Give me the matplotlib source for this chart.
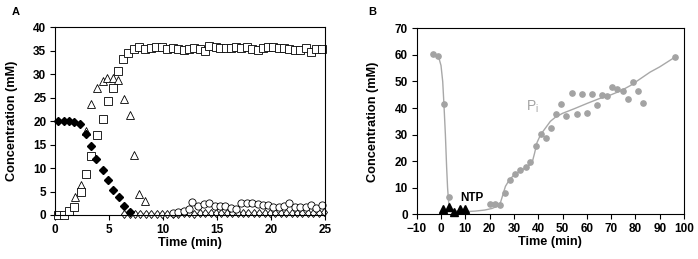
import matplotlib.pyplot as plt

plt.rcParams['font.family'] = ['Liberation Sans', 'DejaVu Sans']

# ---- panel A data ----
dia_t = [0.3, 0.8, 1.3, 1.8, 2.3, 2.9, 3.3, 3.8, 4.4, 4.9, 5.4, 5.9, 6.4, 6.9]
dia_c = [20.0, 20.0, 20.0, 19.9, 19.3, 17.2, 14.8, 12.0, 9.6, 7.4, 5.3, 3.9, 2.0, 0.7]

sq_t = [0.3, 0.8, 1.3, 1.8, 2.4, 2.9, 3.35, 3.85, 4.4, 4.9, 5.35, 5.85, 6.3, 6.8,
        7.35, 7.8, 8.3, 8.9, 9.35, 9.9, 10.4, 10.9, 11.4, 11.9, 12.4, 12.85, 13.4,
        13.85, 14.3, 14.9, 15.3, 15.8, 16.3, 16.8, 17.25, 17.8, 18.25, 18.75,
        19.25, 19.75, 20.2, 20.7, 21.2, 21.7, 22.2, 22.7, 23.2, 23.7, 24.2, 24.7]
sq_c = [0.0, 0.0, 0.8, 1.8, 4.8, 8.7, 12.6, 17.1, 20.5, 24.2, 27.1, 30.7, 33.2, 34.5,
        35.4, 35.9, 35.3, 35.6, 35.8, 35.7, 35.3, 35.6, 35.4, 35.2, 35.3, 35.6, 35.4,
        35.0, 36.1, 35.8, 35.5, 35.6, 35.6, 35.9, 35.5, 35.7, 35.4, 35.2,
        35.6, 35.7, 35.7, 35.5, 35.5, 35.3, 35.1, 35.2, 35.5, 34.7, 35.3, 35.4]

tri_t = [1.85, 2.4, 2.9, 3.35, 3.85, 4.4, 4.85, 5.4, 5.85, 6.4, 6.9, 7.35, 7.8, 8.3]
tri_c = [3.8, 6.3, 18.0, 23.6, 27.0, 28.6, 29.1, 29.1, 28.8, 24.8, 21.3, 12.8, 4.5, 3.0]

circ_t = [10.9, 11.4, 11.9, 12.4, 12.7, 13.2, 13.75, 14.25, 14.8, 15.25, 15.75, 16.25,
          16.75, 17.25, 17.75, 18.25, 18.75, 19.25, 19.75, 20.2, 20.7, 21.2, 21.7,
          22.2, 22.7, 23.2, 23.7, 24.2, 24.7]
circ_c = [0.4, 0.6, 0.9, 1.3, 2.7, 1.9, 2.3, 2.5, 1.9, 1.9, 2.0, 1.4, 1.3, 2.6, 2.6,
          2.6, 2.4, 2.2, 2.1, 1.8, 1.8, 1.9, 2.6, 1.8, 1.6, 1.6, 2.2, 1.5, 2.1]

odia_t = [6.4, 6.9, 7.4, 7.9, 8.4, 8.9, 9.4, 9.9, 10.4, 10.9, 11.4, 11.9, 12.4, 12.9,
          13.4, 13.9, 14.4, 14.9, 15.4, 15.9, 16.4, 16.9, 17.4, 17.9, 18.4, 18.9,
          19.4, 19.9, 20.4, 20.9, 21.4, 21.9, 22.4, 22.9, 23.4, 23.9, 24.4, 24.9]
odia_c = [0.2, 0.3, 0.3, 0.3, 0.3, 0.3, 0.3, 0.3, 0.3, 0.3, 0.3, 0.4, 0.4, 0.3,
          0.4, 0.4, 0.5, 0.4, 0.4, 0.4, 0.5, 0.4, 0.4, 0.5, 0.4, 0.5,
          0.4, 0.5, 0.4, 0.5, 0.4, 0.5, 0.5, 0.4, 0.5, 0.5, 0.5, 0.6]

# ---- panel B data ----
pi_t = [-3.15, -1.1, 1.2, 3.15, 20.1, 22.2, 24.2, 26.3, 28.4, 30.4, 32.7, 34.8, 36.8,
        38.9, 41.0, 43.2, 45.2, 47.3, 49.3, 51.6, 53.7, 55.9, 58.0, 60.1, 62.2, 64.2,
        66.4, 68.4, 70.5, 72.6, 74.7, 76.8, 78.9, 81.0, 83.2, 96.2]
pi_c = [60.3, 59.7, 41.5, 6.4, 3.9, 3.9, 3.4, 8.2, 12.9, 15.1, 16.7, 17.7, 19.6,
        25.7, 30.4, 28.7, 32.6, 37.6, 41.4, 37.0, 45.5, 37.6, 45.2, 38.3, 45.4, 41.2,
        44.9, 44.7, 47.8, 47.2, 46.5, 43.4, 49.8, 46.5, 42.0, 59.3]

fit_t = [-3.2, -1.1, 0.0, 0.7, 1.2, 1.8, 2.3, 2.7, 3.1, 3.5, 4.5, 7, 10, 14, 18, 21,
         23.5, 24.5, 25.5, 26.5, 28, 30, 33, 36, 37.5, 38.5, 39.5, 41, 43, 45, 47,
         50, 55, 60, 65, 70, 74, 78, 82, 86, 90, 96]
fit_c = [60.2, 59.6, 56, 50, 41.5, 30, 18, 10, 5, 2.5, 1.5, 1.1, 1.0, 1.2, 1.6, 2.2,
         3.2, 4.5, 7.5, 10.5, 12.8, 14.8, 16.5, 18.2, 19.5, 23, 27, 30, 32.5, 35,
         36.5, 38, 39.8, 41.7, 43.5, 45, 46.5, 48.5, 51, 53.5, 55.5, 59]

ntp_t = [0.95, 3.4, 5.5, 7.9, 9.9]
ntp_c = [1.9, 2.7, 1.0, 1.9, 1.9]

fig = plt.figure(figsize=(6.98, 2.59), dpi=100)
axA = fig.add_axes([55 / 698, 0.170, 270 / 698, 0.7247])
axB = fig.add_axes([0.597, 0.1726, 0.383, 0.718])

ms = 5.2
axA.plot(odia_t, odia_c, 'd', ms=4.5, mfc='white', mec='black', mew=0.6, clip_on=False)
axA.plot(circ_t, circ_c, 'o', ms=ms, mfc='white', mec='black', mew=0.6, clip_on=False)
axA.plot(tri_t, tri_c, '^', ms=ms + 0.8, mfc='white', mec='black', mew=0.6, clip_on=False)
axA.plot(sq_t, sq_c, 's', ms=ms, mfc='white', mec='black', mew=0.6, clip_on=False)
axA.plot(dia_t, dia_c, 'D', ms=4, mfc='black', mec='black', clip_on=False)
axA.set_xlim(0, 25)
axA.set_ylim(0, 40)
axA.set_xticks(range(0, 26, 5))
axA.set_yticks(range(0, 41, 5))

axB.plot(fit_t, fit_c, '-', color='#a8a8a8', lw=1.0)
axB.plot(pi_t, pi_c, 'o', ms=3.8, color='#a3a3a3', clip_on=False)
axB.plot(ntp_t, ntp_c, '^', ms=5.5, color='black', clip_on=False)
axB.text(12.6, 6.2, 'NTP', fontsize=8.5, fontweight='bold', ha='center', va='center')
axB.text(37.7, 40.3, 'P$_\\mathregular{i}$', fontsize=10, color='#a3a3a3', ha='center', va='center')
axB.set_xlim(-10, 100)
axB.set_ylim(0, 70)
axB.set_xticks(range(-10, 101, 10))
axB.set_yticks(range(0, 71, 10))

for ax in (axA, axB):
    ax.set_xlabel('Time (min)', fontsize=9.2, fontweight='bold', labelpad=1)
    ax.set_ylabel('Concentration (mM)', fontsize=9.2, fontweight='bold', labelpad=11)
    ax.tick_params(labelsize=8.5, length=3.8, width=0.8, pad=2.5)
    for lbl in ax.get_xticklabels() + ax.get_yticklabels():
        lbl.set_fontweight('bold')
    for s in ax.spines.values():
        s.set_linewidth(0.8)

fig.text(12 / 698, 1 - 12 / 259, 'A', fontsize=8, fontweight='bold', ha='left', va='center')
fig.text(368 / 698, 1 - 12 / 259, 'B', fontsize=8, fontweight='bold', ha='left', va='center')

fig.savefig('out.png', dpi=100)
